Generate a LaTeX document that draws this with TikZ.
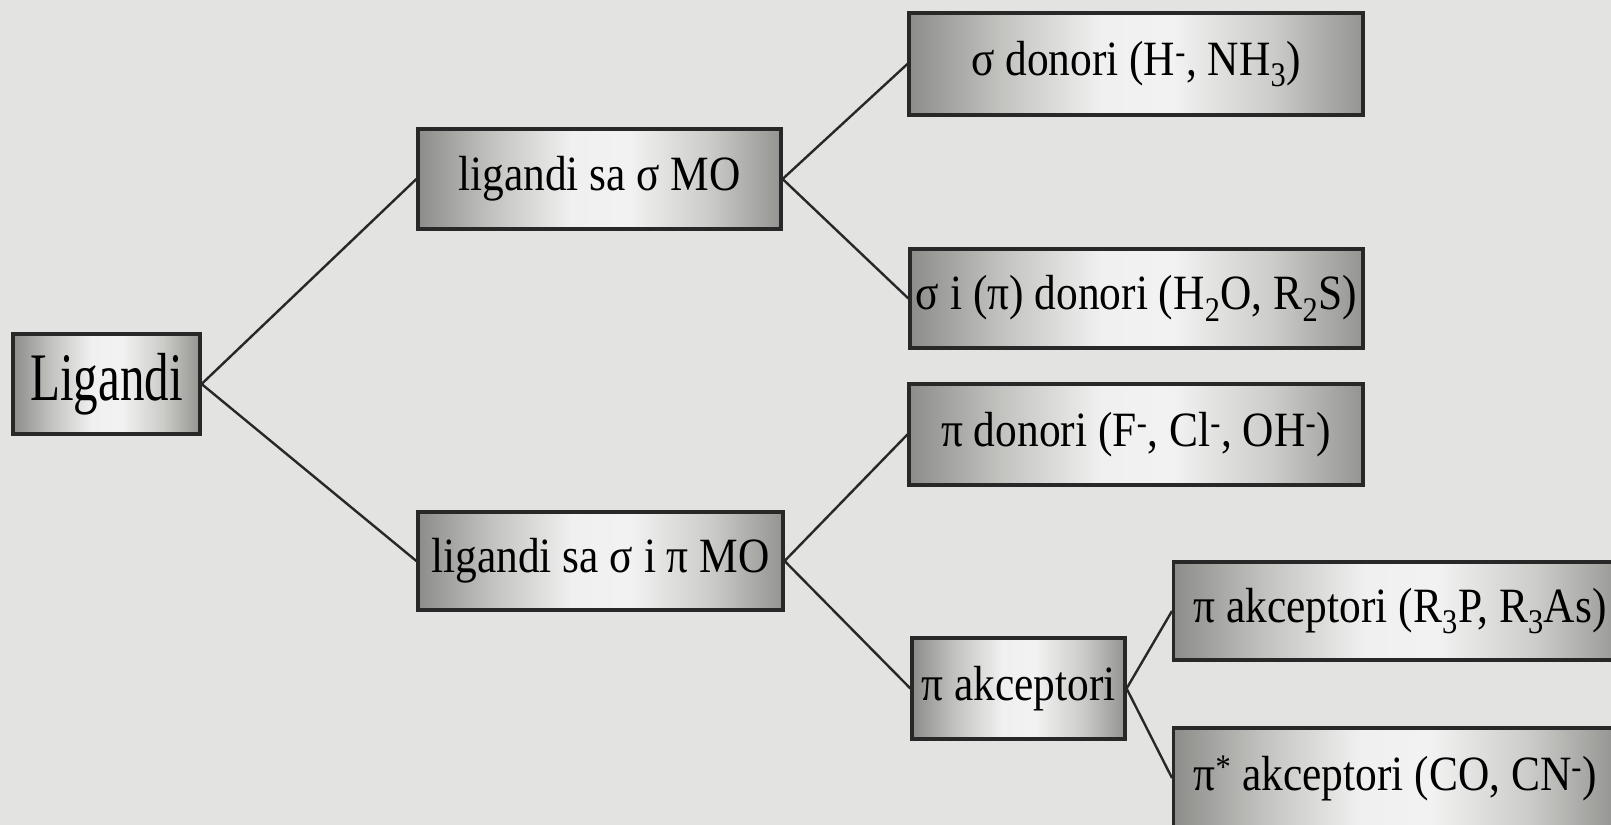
\documentclass[tikz,border=0pt]{standalone}
\usepackage{fontspec}
\setmainfont{Liberation Serif}[FakeStretch=0.88]
\definecolor{bgcol}{RGB}{227,227,225}
\definecolor{boxline}{RGB}{40,40,40}
% the box spans 25bp to 75bp of the shading
\pgfdeclarehorizontalshading{boxshade}{100bp}{%
  rgb(0bp)=(.55,.55,.54); rgb(25bp)=(.55,.55,.54); rgb(35bp)=(.76,.76,.75);
  rgb(46bp)=(.94,.94,.94); rgb(54bp)=(.95,.95,.95); rgb(65bp)=(.80,.80,.79);
  rgb(75bp)=(.58,.58,.57); rgb(100bp)=(.58,.58,.57)}
\tikzset{
  ligbox/.style={draw=boxline, line width=2.4pt, inner sep=0pt, shading=boxshade,
    font=\fontsize{37}{40}\selectfont},
  branch/.style={draw=boxline, line width=1.8pt}
}
\begin{document}
\begin{tikzpicture}[x=0.75pt,y=0.75pt,yscale=-1,xscale=1]
%background, sets the size of the page
\fill[bgcol] (0,0) rectangle (1611,825);
\useasboundingbox (0,0) rectangle (1611,825);
\clip (0,0) rectangle (1611,825);

% Text Node
\node (lig) [ligbox, minimum width=140.25pt, minimum height=75pt, font=\fontsize{51}{54}\selectfont] at (106.5,384) {\scalebox{0.82}[1]{Ligandi}};
% Text Node
\node (sigmaMO) [ligbox, minimum width=272.25pt, minimum height=75pt] at (599.5,179) {ligandi sa σ MO};
% Text Node
\node (piMO) [ligbox, minimum width=273.75pt, minimum height=73.5pt] at (600.5,561) {ligandi sa σ i π MO};
% Text Node
\node (sdonori) [ligbox, minimum width=340.5pt, minimum height=76.5pt] at (1136,64) {σ donori (H\textsuperscript{-}, NH\textsubscript{3})};
% Text Node
\node (spdonori) [ligbox, minimum width=339.75pt, minimum height=74.25pt] at (1136.5,298.5) {σ i (π) donori (H\textsubscript{2}O, R\textsubscript{2}S)};
% Text Node
\node (pdonori) [ligbox, minimum width=340.5pt, minimum height=75.75pt] at (1136,434.5) {π donori (F\textsuperscript{-}, Cl\textsuperscript{-}, OH\textsuperscript{-})};
% Text Node
\node (pakc) [ligbox, minimum width=159.75pt, minimum height=75.75pt] at (1018.5,688.5) {π akceptori};
% Text Node
\node (pakcR) [ligbox, anchor=west, inner xsep=15pt, minimum height=73.5pt] at (1172,611) {π akceptori (R\textsubscript{3}P, R\textsubscript{3}As)};
% Text Node
\node (pakcstar) [ligbox, anchor=west, inner xsep=15pt, minimum height=75pt] at (1172,778) {π\textsuperscript{*} akceptori (CO, CN\textsuperscript{-})};

%Straight Lines
\draw[branch] (lig.east) -- (sigmaMO.west);
\draw[branch] (lig.east) -- (piMO.west);
%Straight Lines
\draw[branch] (sigmaMO.east) -- (sdonori.west);
\draw[branch] (sigmaMO.east) -- (spdonori.west);
%Straight Lines
\draw[branch] (piMO.east) -- (pdonori.west);
\draw[branch] (piMO.east) -- (pakc.west);
%Straight Lines
\draw[branch] (pakc.east) -- (pakcR.west);
\draw[branch] (pakc.east) -- (pakcstar.west);
\end{tikzpicture}
\end{document}
